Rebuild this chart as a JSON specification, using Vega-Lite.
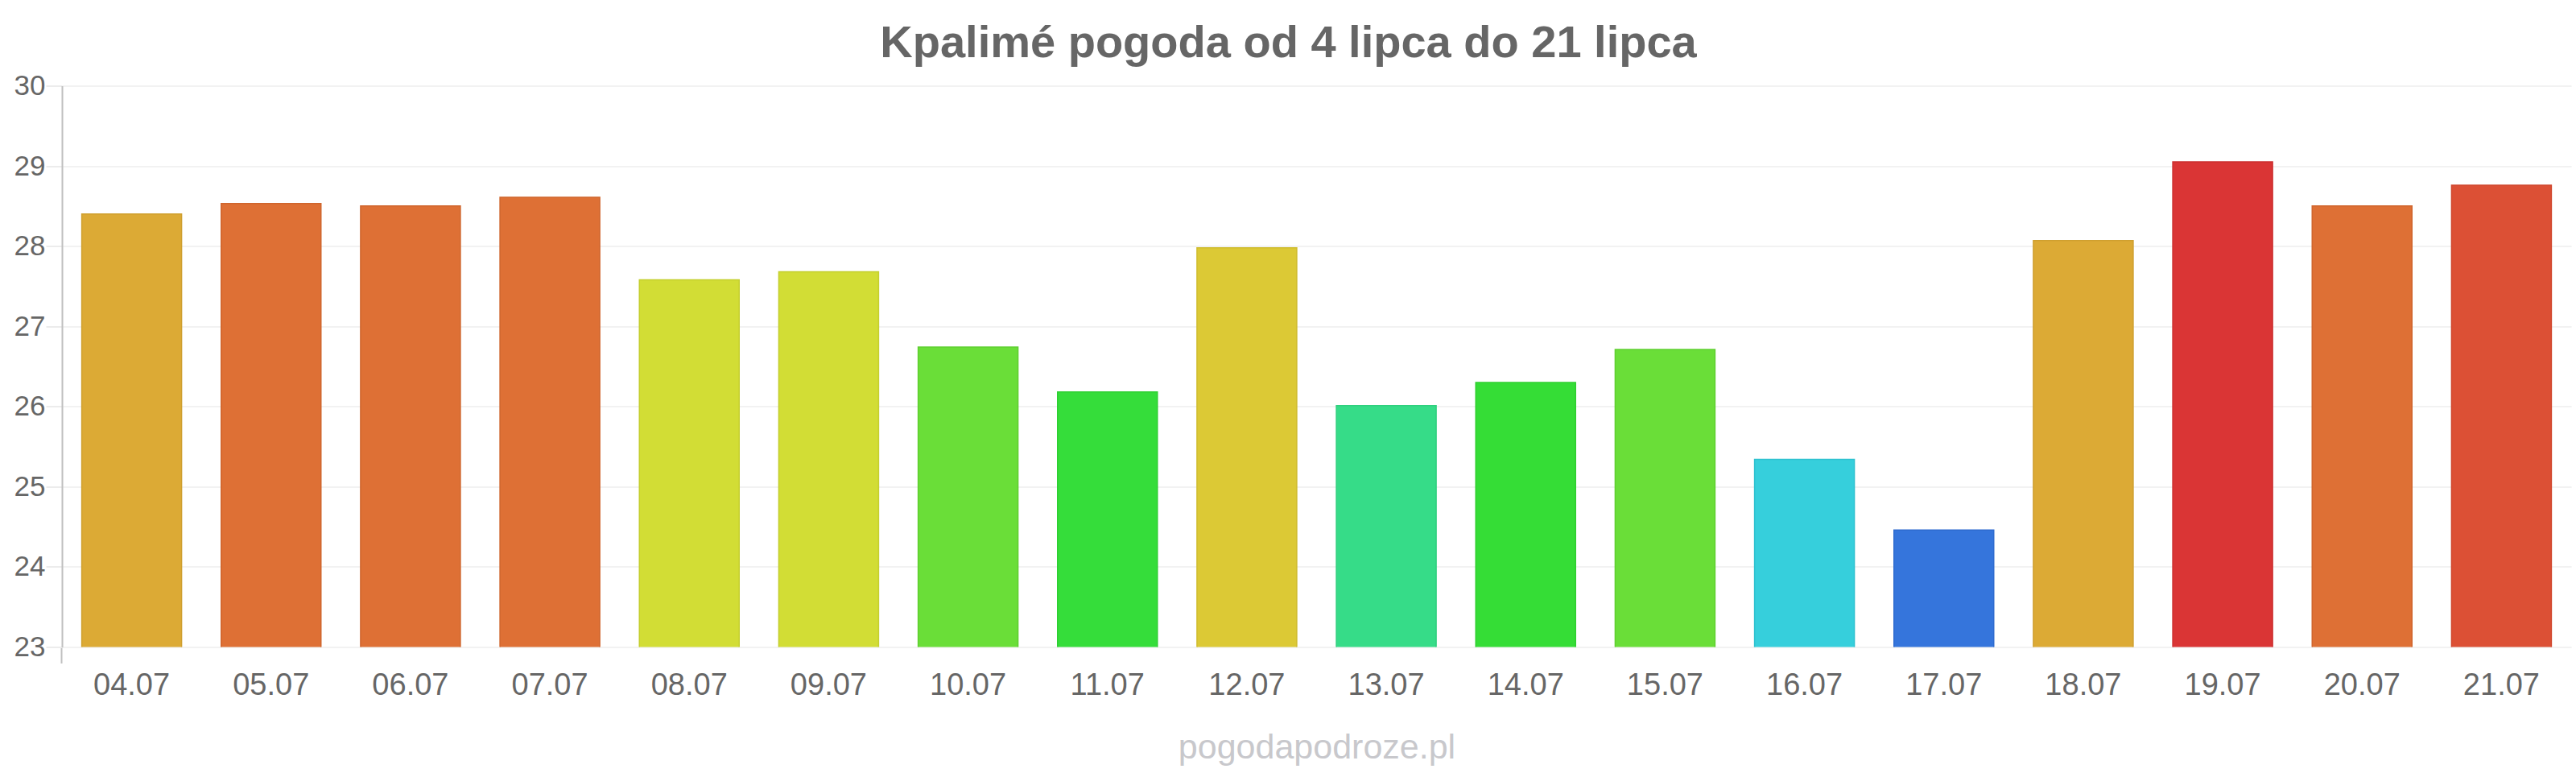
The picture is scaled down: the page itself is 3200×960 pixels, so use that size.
{
  "$schema": "https://vega.github.io/schema/vega-lite/v6.json",
  "autosize": "none",
  "width": 3117,
  "height": 697,
  "padding": {"top": 106.5, "left": 77, "right": 6, "bottom": 156.5},
  "background": "#ffffff",
  "config": {
    "font": "Liberation Sans",
    "view": {"stroke": null}
  },
  "title": {
    "text": "Kpalimé pogoda od 4 lipca do 21 lipca",
    "fontSize": 56,
    "fontWeight": "bold",
    "color": "#666666",
    "anchor": "middle",
    "frame": "group",
    "dx": -35,
    "baseline": "alphabetic",
    "offset": -37
  },
  "data": {
    "values": [
      {"date": "04.07", "temp": 28.4},
      {"date": "05.07", "temp": 28.53},
      {"date": "06.07", "temp": 28.5},
      {"date": "07.07", "temp": 28.61},
      {"date": "08.07", "temp": 27.58},
      {"date": "09.07", "temp": 27.68},
      {"date": "10.07", "temp": 26.74},
      {"date": "11.07", "temp": 26.18},
      {"date": "12.07", "temp": 27.98},
      {"date": "13.07", "temp": 26.01},
      {"date": "14.07", "temp": 26.3},
      {"date": "15.07", "temp": 26.71},
      {"date": "16.07", "temp": 25.34},
      {"date": "17.07", "temp": 24.46},
      {"date": "18.07", "temp": 28.07},
      {"date": "19.07", "temp": 29.05},
      {"date": "20.07", "temp": 28.5},
      {"date": "21.07", "temp": 28.76}
    ]
  },
  "mark": {"type": "bar", "strokeWidth": 1.5, "clip": true},
  "encoding": {
    "x": {
      "field": "date",
      "type": "nominal",
      "sort": null,
      "scale": {"paddingInner": 0.284, "paddingOuter": 0.142},
      "axis": {
        "title": "pogodapodroze.pl",
        "titleFont": "Liberation Sans",
        "titleFontSize": 43,
        "titleFontWeight": "normal",
        "titleColor": "#c8c8cc",
        "titleBaseline": "alphabetic",
        "titleY": 137.5,
        "labelAngle": 0,
        "labelFontSize": 38,
        "labelColor": "#666666",
        "labelBaseline": "alphabetic",
        "labelPadding": 38.5,
        "domain": false,
        "grid": false,
        "ticks": true,
        "bandPosition": -0.199,
        "tickSize": 20,
        "tickWidth": 2,
        "tickColor": {"condition": {"test": "datum.value === '04.07'", "value": "#c0c0c0"}, "value": "rgba(0,0,0,0)"}
      }
    },
    "y": {
      "field": "temp",
      "type": "quantitative",
      "scale": {"domain": [23, 30], "nice": false, "zero": false},
      "axis": {
        "title": null,
        "values": [23, 24, 25, 26, 27, 28, 29, 30],
        "labelFontSize": 35,
        "labelColor": "#666666",
        "labelPadding": 1,
        "tickSize": 20,
        "tickWidth": 2,
        "tickColor": "#ececec",
        "domain": true,
        "domainColor": "#c0c0c0",
        "domainWidth": 2,
        "grid": true,
        "gridColor": "#f2f2f2",
        "gridWidth": 2
      }
    },
    "fill": {
      "field": "date",
      "type": "nominal",
      "legend": null,
      "scale": {
        "domain": ["04.07", "05.07", "06.07", "07.07", "08.07", "09.07", "10.07", "11.07", "12.07", "13.07", "14.07", "15.07", "16.07", "17.07", "18.07", "19.07", "20.07", "21.07"],
        "range": ["#dcaa35", "#de7035", "#de7035", "#de7035", "#d2dd35", "#d2dd35", "#6ade38", "#35dd3a", "#dcc935", "#36dc88", "#35dd36", "#6ade38", "#36cfdc", "#3575dc", "#dcaa35", "#da3535", "#de7035", "#dc5035"]
      }
    },
    "stroke": {
      "field": "date",
      "type": "nominal",
      "legend": null,
      "scale": {
        "domain": ["04.07", "05.07", "06.07", "07.07", "08.07", "09.07", "10.07", "11.07", "12.07", "13.07", "14.07", "15.07", "16.07", "17.07", "18.07", "19.07", "20.07", "21.07"],
        "range": ["#cf9f2e", "#cf652d", "#cf652d", "#cf652d", "#c4cf2e", "#c4cf2e", "#5fcf30", "#2ecf33", "#cfbc2e", "#2fcf7e", "#2ecf2f", "#5fcf30", "#2fc1cf", "#2e6bcf", "#cf9f2e", "#cc2e2e", "#cf652d", "#cf472e"]
      }
    }
  }
}
